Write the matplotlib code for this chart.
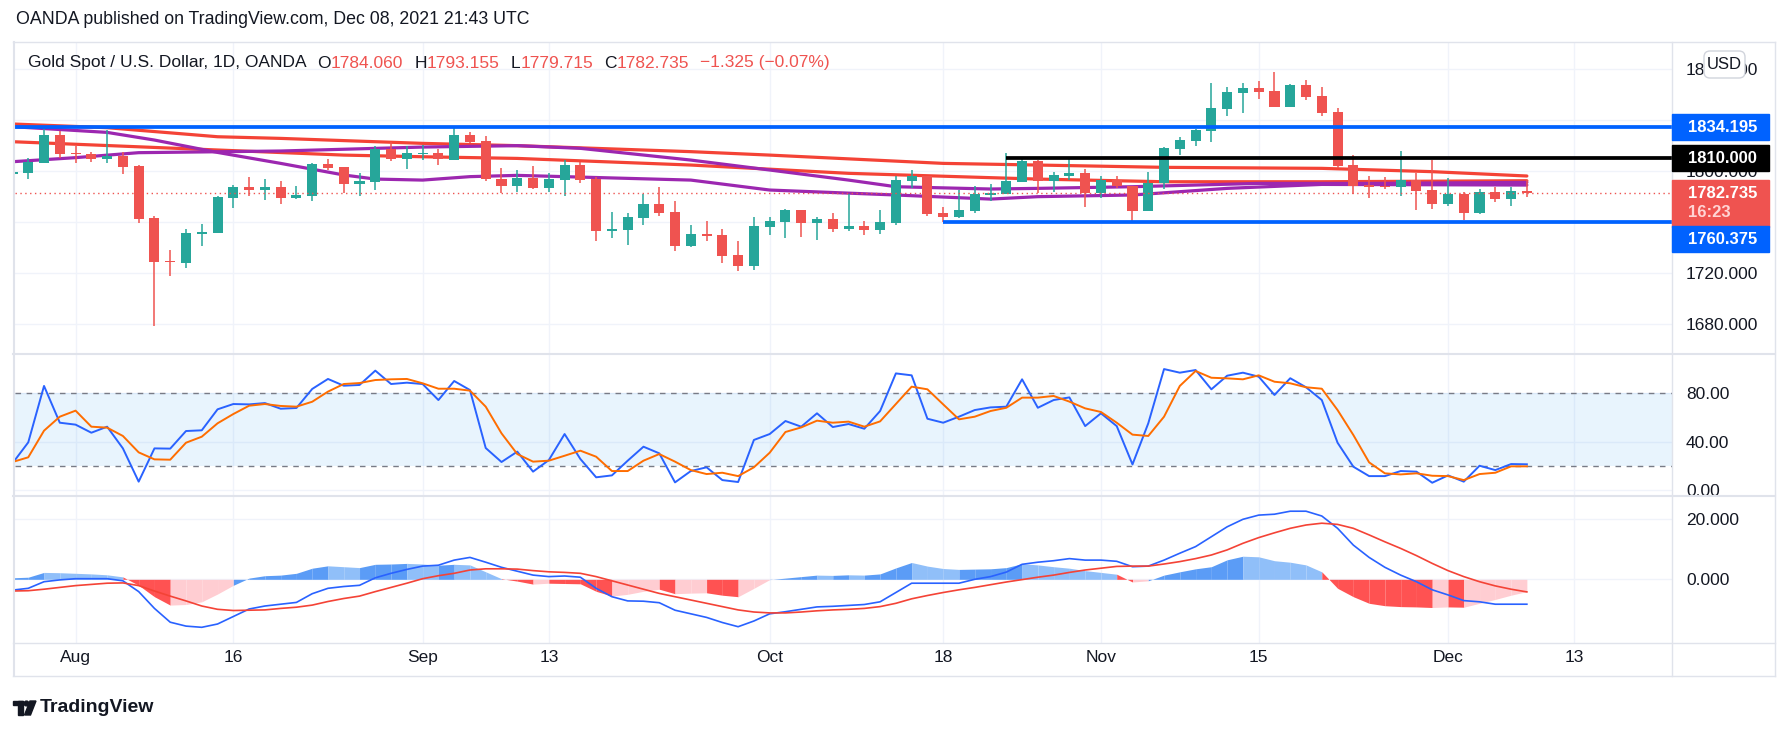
import matplotlib
matplotlib.use("Agg")
import matplotlib.pyplot as plt
from matplotlib.patches import Rectangle, FancyBboxPatch, Circle, Polygon
from matplotlib.lines import Line2D
from matplotlib.transforms import IdentityTransform
import numpy as np

plt.rcParams['font.family'] = ['Liberation Sans', 'DejaVu Sans']

# ---- data (bar index 0 = Jul 28 2021, 95 = Dec 08) ----
bars = np.arange(-1, 96)

opens = [1797.4, 1798.7, 1806.5, 1828.2, 1814.1, 1813.3, 1809.7, 1811.5, 1803.9, 1762.9,
         1729.4, 1728.1, 1750.8, 1751.6, 1779.1, 1787.2, 1785.4, 1787.2, 1779.1, 1780.7,
         1805.5, 1802.9, 1790.1, 1791.6, 1817.5, 1809.7, 1813.3, 1814.1, 1808.6, 1828.2,
         1823.5, 1793.7, 1788.2, 1794.5, 1786.9, 1792.9, 1804.7, 1793.7, 1753.2, 1754.0,
         1763.4, 1774.1, 1767.8, 1741.2, 1750.6, 1749.8, 1734.1, 1725.8, 1756.3, 1760.3,
         1769.7, 1759.5, 1762.4, 1754.8, 1756.9, 1754.0, 1759.5, 1792.4, 1796.1, 1767.1,
         1763.9, 1768.6, 1781.4, 1782.2, 1791.4, 1807.8, 1792.4, 1796.3, 1798.4, 1783.0,
         1792.7, 1788.0, 1768.9, 1790.8, 1817.5, 1823.8, 1831.6, 1848.9, 1861.4, 1865.1,
         1862.7, 1850.5, 1867.5, 1858.8, 1846.3, 1804.7, 1789.0, 1788.2, 1787.7, 1792.7,
         1785.1, 1774.4, 1782.0, 1767.3, 1783.5, 1778.3, 1784.060]
highs = [1801.5, 1809.9, 1832.9, 1831.4, 1819.9, 1815.2, 1832.2, 1814.6, 1804.7, 1764.4,
         1738.0, 1754.5, 1758.2, 1780.1, 1789.0, 1795.3, 1793.7, 1792.2, 1788.2, 1806.5,
         1809.2, 1802.9, 1798.2, 1819.6, 1822.5, 1819.6, 1820.4, 1817.3, 1834.5, 1830.3,
         1827.5, 1802.1, 1800.5, 1804.2, 1798.2, 1808.4, 1806.8, 1795.6, 1768.1, 1767.1,
         1782.0, 1787.5, 1776.5, 1757.6, 1760.8, 1754.8, 1745.1, 1763.9, 1763.9, 1770.2,
         1769.7, 1764.2, 1767.1, 1781.7, 1760.8, 1769.4, 1796.1, 1800.8, 1796.1, 1771.8,
         1785.1, 1788.2, 1789.8, 1814.1, 1810.2, 1808.6, 1799.5, 1810.2, 1801.6, 1796.1,
         1796.1, 1788.0, 1799.2, 1818.8, 1826.7, 1832.9, 1869.0, 1865.9, 1869.0, 1870.6,
         1877.6, 1868.2, 1871.4, 1865.9, 1849.4, 1812.5, 1796.1, 1795.0, 1815.7, 1798.7,
         1808.6, 1794.2, 1783.8, 1785.9, 1787.7, 1787.7, 1793.155]
lows = [1794.5, 1793.5, 1806.5, 1809.9, 1806.5, 1807.3, 1806.5, 1797.9, 1759.0, 1678.5,
        1717.9, 1724.2, 1741.4, 1751.6, 1771.2, 1780.4, 1777.3, 1774.4, 1778.0, 1776.7,
        1800.8, 1783.0, 1780.7, 1785.1, 1807.8, 1801.6, 1808.6, 1804.7, 1808.6, 1821.7,
        1792.2, 1782.5, 1783.8, 1786.0, 1783.8, 1780.7, 1790.8, 1745.4, 1747.7, 1742.0,
        1757.6, 1764.7, 1737.3, 1740.4, 1745.4, 1728.1, 1721.6, 1722.6, 1749.8, 1747.7,
        1748.5, 1746.1, 1752.4, 1753.2, 1750.1, 1750.8, 1757.9, 1786.7, 1764.7, 1760.0,
        1763.1, 1767.1, 1776.5, 1782.2, 1791.4, 1783.0, 1783.8, 1792.7, 1772.0, 1779.1,
        1786.4, 1759.0, 1768.9, 1785.6, 1812.5, 1819.9, 1823.0, 1843.4, 1845.8, 1856.7,
        1850.5, 1850.5, 1855.9, 1843.4, 1802.1, 1782.2, 1779.1, 1786.1, 1780.7, 1769.7,
        1770.5, 1772.8, 1761.6, 1766.5, 1775.9, 1772.8, 1779.715]
closes = [1799.5, 1806.8, 1828.2, 1813.3, 1813.1, 1809.7, 1811.5, 1803.4, 1762.6, 1728.9,
          1728.4, 1751.1, 1751.9, 1779.3, 1787.2, 1785.4, 1787.2, 1779.1, 1780.9, 1805.5,
          1802.6, 1790.1, 1792.2, 1817.5, 1809.7, 1814.1, 1814.1, 1809.7, 1828.2, 1822.5,
          1793.7, 1788.2, 1794.5, 1786.9, 1793.7, 1804.7, 1792.9, 1753.2, 1754.5, 1763.9,
          1774.1, 1767.3, 1741.2, 1750.6, 1749.3, 1733.3, 1725.8, 1756.9, 1760.8, 1769.7,
          1759.5, 1762.4, 1754.8, 1756.9, 1754.0, 1760.0, 1792.9, 1796.1, 1766.3, 1763.9,
          1769.4, 1782.0, 1782.7, 1792.2, 1807.8, 1792.2, 1796.9, 1798.4, 1783.0, 1792.7,
          1788.0, 1768.9, 1790.8, 1818.0, 1824.1, 1831.9, 1849.4, 1862.0, 1865.1, 1862.2,
          1850.5, 1867.5, 1858.3, 1845.8, 1804.2, 1788.5, 1787.7, 1787.5, 1792.7, 1784.6,
          1774.4, 1781.7, 1767.3, 1783.5, 1778.3, 1784.3, 1782.735]

# moving averages, read at a few bars each
ma_red1_x = [-1, 5, 12, 16, 25, 31, 42, 47, 58, 64, 72, 82, 89, 95]
ma_red1_y = [1836.9, 1834.0, 1826.9, 1825.6, 1821.7, 1819.9, 1815.2, 1812.5, 1806.0, 1804.7,
             1802.9, 1802.1, 1799.5, 1796.1]
ma_red2_x = [-1, 12, 20, 25, 31, 42, 52, 61, 64, 72, 82, 95]
ma_red2_y = [1823.0, 1816.5, 1812.5, 1811.2, 1809.9, 1804.7, 1798.2, 1794.8, 1793.7, 1791.6,
             1791.6, 1792.4]
ma_pur1_x = [-1, 5, 8, 12, 16, 20, 22, 25, 28, 31, 42, 47, 55, 61, 64, 70, 76, 82, 95]
ma_pur1_y = [1834.8, 1830.3, 1824.3, 1814.6, 1806.0, 1796.9, 1793.7, 1792.9, 1795.6, 1796.6,
             1792.9, 1785.1, 1781.2, 1778.0, 1779.9, 1781.2, 1786.4, 1789.5, 1789.0]
ma_pur2_x = [-1, 3, 7, 16, 25, 31, 35, 42, 47, 52, 55, 61, 64, 70, 78, 85, 95]
ma_pur2_y = [1807.3, 1810.5, 1814.4, 1815.7, 1818.8, 1819.9, 1817.8, 1808.6, 1800.8, 1792.9,
             1787.7, 1785.9, 1786.4, 1787.7, 1790.3, 1790.3, 1791.1]

stoch_k = [21.9, 39.3, 86.1, 55.6, 54.0, 47.3, 52.3, 34.3, 6.7, 34.3, 34.1, 48.7, 49.3, 66.7,
           71.1, 70.8, 71.9, 67.2, 67.8, 83.6, 91.9, 86.3, 86.9, 98.8, 87.7, 88.8, 87.7, 74.4,
           90.2, 82.7, 34.6, 23.0, 31.6, 15.0, 24.6, 46.2, 25.5, 10.3, 11.9, 24.1, 35.7, 30.2,
           6.1, 15.5, 18.6, 8.0, 6.4, 41.3, 46.2, 57.0, 52.3, 63.4, 52.0, 54.5, 50.6, 65.3,
           96.5, 94.9, 58.9, 55.6, 60.6, 66.1, 68.3, 68.9, 91.6, 68.0, 74.4, 76.6, 52.8, 63.4,
           52.8, 21.0, 55.1, 100.1, 97.1, 99.3, 83.3, 94.6, 97.1, 93.8, 78.6, 92.5, 85.0, 74.4,
           39.0, 19.1, 11.3, 11.3, 15.5, 15.0, 5.8, 11.9, 6.7, 19.9, 16.3, 21.3, 21.1]
stoch_d = [23.0, 26.9, 49.0, 60.6, 65.6, 52.3, 51.5, 44.6, 31.0, 25.2, 24.9, 39.0, 44.0, 55.1,
           62.8, 69.7, 71.1, 69.5, 68.9, 73.0, 81.4, 87.7, 88.5, 91.0, 91.6, 91.9, 88.3, 83.8,
           83.8, 82.2, 68.9, 46.8, 29.6, 23.3, 24.1, 28.2, 32.4, 27.4, 15.5, 15.5, 24.1, 29.6,
           23.3, 16.3, 13.0, 14.1, 11.3, 18.6, 30.7, 47.9, 51.7, 57.3, 55.6, 56.5, 52.3, 56.7,
           71.1, 85.5, 83.3, 70.8, 58.4, 60.6, 65.3, 68.0, 76.4, 76.4, 77.8, 73.1, 67.5, 64.5,
           55.6, 45.7, 44.6, 60.6, 86.1, 98.5, 92.9, 92.4, 91.6, 94.9, 89.6, 88.3, 85.0, 83.8,
           66.1, 45.4, 22.7, 13.6, 12.7, 13.6, 11.6, 11.3, 8.0, 13.0, 14.1, 19.4, 19.4]

macd_line = [-3.6, -3.0, -0.8, -0.2, 0.2, 0.2, 0.2, -0.5, -4.1, -9.7, -14.3, -15.6, -16.0,
             -14.9, -12.4, -9.9, -8.9, -8.3, -7.7, -4.8, -3.0, -2.4, -2.0, 0.5, 2.0, 3.3, 4.4,
             4.7, 6.4, 7.3, 5.7, 4.0, 2.7, 1.4, 0.9, 1.1, 0.7, -3.0, -5.8, -7.2, -7.3, -7.8,
             -10.3, -11.5, -12.7, -14.4, -15.8, -13.9, -11.5, -10.8, -10.0, -9.2, -9.0, -8.7,
             -8.4, -7.5, -4.4, -1.3, -1.3, -1.3, -1.3, 0.0, 0.9, 2.4, 5.0, 5.7, 6.2, 6.9, 6.4,
             6.4, 6.0, 4.2, 4.4, 6.4, 8.7, 10.9, 14.2, 17.5, 20.0, 21.4, 21.7, 22.7, 22.7, 21.1,
             17.0, 11.4, 7.3, 4.0, 1.4, -0.8, -3.5, -5.2, -7.1, -7.5, -8.3, -8.3, -8.3]
macd_signal = [-3.9, -3.8, -3.3, -2.7, -2.1, -1.7, -1.3, -1.2, -2.1, -3.9, -5.6, -7.2, -8.9,
               -10.0, -10.4, -10.3, -10.2, -9.7, -9.3, -8.6, -7.4, -6.4, -5.6, -4.1, -2.7, -1.3,
               0.2, 1.2, 2.0, 3.1, 3.5, 3.5, 3.4, 2.9, 2.5, 2.3, 2.0, 0.9, -0.5, -1.9, -3.3,
               -4.7, -5.8, -6.9, -8.0, -9.1, -10.2, -10.9, -11.2, -11.2, -10.9, -10.5, -10.2,
               -10.0, -9.7, -9.1, -8.0, -6.5, -5.4, -4.4, -3.5, -2.7, -1.8, -0.9, -0.1, 0.7, 1.4,
               2.3, 3.1, 3.7, 4.3, 4.4, 4.4, 5.1, 5.9, 6.9, 8.1, 9.8, 12.0, 13.9, 15.5, 17.0,
               18.1, 18.7, 18.3, 17.0, 14.8, 12.5, 10.3, 7.9, 5.3, 2.9, 0.9, -0.8, -2.2, -3.3, -4.2]
macd_hist = [0.5, 0.7, 2.3, 2.2, 2.0, 1.8, 1.5, 0.8, -2.0, -5.8, -8.6, -8.4, -7.5, -4.9, -2.0,
             0.4, 1.2, 1.4, 2.0, 3.7, 4.5, 4.2, 3.9, 5.0, 5.1, 5.3, 5.1, 4.7, 5.0, 4.8, 2.5, 0.2,
             -0.6, -1.6, -1.3, -1.4, -1.5, -4.0, -5.6, -5.0, -4.0, -3.3, -4.8, -4.6, -4.5, -5.3,
             -5.8, -3.0, -0.1, 0.4, 0.9, 1.4, 1.3, 1.5, 1.4, 1.8, 3.8, 5.6, 4.4, 3.6, 3.3, 3.4,
             3.5, 3.9, 5.2, 4.8, 4.2, 3.7, 2.9, 2.3, 1.7, -0.9, -0.5, 1.4, 2.5, 3.5, 4.2, 6.5,
             7.7, 7.5, 6.2, 5.7, 4.8, 2.5, -3.0, -5.8, -8.0, -8.8, -9.1, -9.2, -9.4, -9.2, -9.3,
             -8.0, -6.7, -5.3, -4.1]

date_ticks = [3, 13, 25, 33, 47, 58, 68, 78, 90, 98]
date_labels = ['Aug', '16', 'Sep', '13', 'Oct', '18', 'Nov', '15', 'Dec', '13']

price_ticks = [1680, 1720, 1760, 1800, 1840, 1880]
# 1760 and 1840 sit fully behind the price tags in the reference
price_tick_labels = ['1680.000', '1720.000', '', '1800.000', '', '1880.000']

last_price = 1782.735
level_top = 1834.195
level_mid = 1810.000
level_low = 1760.375

# ---- styling ----
TEAL = '#26a69a'
RED = '#ef5350'
BLUE = '#0062ff'
TXT = '#131722'
GRID = '#f0f3fa'
FRAME = '#e0e3eb'
AXFS = 12.5

W, H = 1791, 736
fig = plt.figure(figsize=(W / 100, H / 100), dpi=100)
fig.patch.set_facecolor('white')
PX = IdentityTransform()

left, right = 15, 1672


def panel(top, bottom):
    return fig.add_axes([left / W, 1 - bottom / H, (right - left) / W, (bottom - top) / H])


ax = panel(42, 354)
ax_st = panel(354, 496)
ax_m = panel(496, 643)
xlim = (-0.84, 104.2)

for a in (ax, ax_st, ax_m):
    a.set_xlim(*xlim)
    a.set_xticks(date_ticks)
    a.grid(True, color=GRID, lw=1)
    a.set_axisbelow(True)
    for s in a.spines.values():
        s.set_visible(False)
    a.yaxis.tick_right()
    a.tick_params(axis='both', length=0, labelsize=AXFS, labelcolor=TXT)
    a.tick_params(axis='y', pad=10)
    a.patch.set_alpha(0)

# main price panel
ax.set_ylim(1656.5, 1901.2)
ax.set_yticks(price_ticks)
ax.set_yticklabels(price_tick_labels)
ax.set_xticklabels([])

ax.plot(ma_red1_x, ma_red1_y, color='#f44336', lw=2.3, zorder=2, solid_capstyle='round')
ax.plot(ma_red2_x, ma_red2_y, color='#f44336', lw=2.3, zorder=2, solid_capstyle='round')
ax.plot(ma_pur1_x, ma_pur1_y, color='#9c27b0', lw=2.3, zorder=2, solid_capstyle='round')
ax.plot(ma_pur2_x, ma_pur2_y, color='#9c27b0', lw=2.3, zorder=2, solid_capstyle='round')

o = np.array(opens); c = np.array(closes)
cols = np.where(c >= o, TEAL, RED)
ax.vlines(bars, lows, highs, colors=cols, lw=1.1, zorder=3)
ax.bar(bars, np.maximum(np.abs(c - o), 1.0), bottom=np.minimum(o, c), width=0.64,
       color=cols, zorder=3)

ax.axhline(last_price, color=RED, lw=1, ls=(0, (1, 2.5)), zorder=4)
ax.hlines(level_top, xlim[0], xlim[1], color=BLUE, lw=2.7, zorder=5)
ax.hlines(level_mid, 62, xlim[1], color='black', lw=2.7, zorder=5)
ax.hlines(level_low, 58, xlim[1], color=BLUE, lw=2.7, zorder=5)

# stochastic panel
ax_st.set_ylim(-5.2, 112.6)
ax_st.set_yticks([0, 40, 80])
ax_st.set_yticklabels(['0.00', '40.00', '80.00'])
ax_st.set_xticklabels([])
ax_st.axhspan(20, 80, color='#2196f3', alpha=0.1, lw=0)
ax_st.axhline(80, color='#787b86', lw=1, ls=(0, (4, 4)))
ax_st.axhline(20, color='#787b86', lw=1, ls=(0, (4, 4)))
ax_st.plot(bars, stoch_k, color='#2962ff', lw=1.4)
ax_st.plot(bars, stoch_d, color='#ff6d00', lw=1.4)

# macd panel
ax_m.set_ylim(-21.23, 27.77)
ax_m.set_yticks([0, 20])
ax_m.set_yticklabels(['0.000', '20.000'])
ax_m.set_xticklabels(date_labels)
ax_m.tick_params(axis='x', pad=5)
for i in range(1, len(bars)):
    h0, h1 = macd_hist[i - 1], macd_hist[i]
    if h1 >= 0:
        col = '#5b9cf6' if h1 >= h0 else '#90bff9'
    else:
        col = '#ff5252' if h1 < h0 else '#ffcdd2'
    ax_m.fill_between([bars[i - 1], bars[i]], [h0, h1], 0, color=col, lw=0)
ax_m.plot(bars, macd_line, color='#2962ff', lw=1.2)
ax_m.plot(bars, macd_signal, color='#f44336', lw=1.2)


# ---- frame lines (pixel coords, y from top) ----
def hline_px(y, x0, x1, color=FRAME, lw=1.0):
    fig.add_artist(Line2D([x0, x1], [H - y, H - y], transform=PX, color=color, lw=lw))


def vline_px(x, y0, y1, color=FRAME, lw=1.0):
    fig.add_artist(Line2D([x, x], [H - y0, H - y1], transform=PX, color=color, lw=lw))


hline_px(42, 13, 1775)
hline_px(354, 13, 1775, lw=1.5)
hline_px(496, 13, 1775, lw=1.5)
hline_px(643, 13, 1775)
hline_px(676, 13, 1775)
vline_px(14, 42, 676, lw=1.5)
vline_px(1672, 42, 676)
vline_px(1775, 42, 676)


# ---- price labels on the right axis ----
def ypix(a, v):
    return H - a.transData.transform((0, v))[1]


def price_tag(v, face, text, top_off=13, bot_off=13, shift=0):
    yc = ypix(ax, v) + shift
    fig.add_artist(Rectangle((1672, H - (yc + bot_off)), 97, top_off + bot_off,
                             transform=PX, color=face, zorder=10))
    fig.text(1688, H - yc, text, transform=PX, color='white', fontsize=12,
             fontweight='bold', va='center', ha='left', zorder=11)
    return yc


price_tag(level_top, BLUE, '%.3f' % level_top)
price_tag(level_mid, 'black', '%.3f' % level_mid)
yc = price_tag(last_price, RED, '%.3f' % last_price, bot_off=34)
fig.text(1688, H - (yc + 19), '16:23', transform=PX, color='#ffd4d4', fontsize=12,
         fontweight='bold', va='center', ha='left', zorder=11)
price_tag(level_low, BLUE, '%.3f' % level_low, shift=17.7)

fig.add_artist(FancyBboxPatch((1704, H - 78), 41, 27, boxstyle='round,pad=0,rounding_size=6',
                              transform=PX, facecolor='white', edgecolor='#d1d4dc', lw=1,
                              zorder=10))
fig.text(1724.5, H - 64.5, 'USD', transform=PX, color=TXT, fontsize=12, ha='center',
         va='center', zorder=11)

# ---- header texts ----
fig.text(16, H - 19, 'OANDA published on TradingView.com, Dec 08, 2021 21:43 UTC', transform=PX,
         color=TXT, fontsize=12.8, va='center')

renderer = fig.canvas.get_renderer()
runs = [('Gold Spot / U.S. Dollar, 1D, OANDA', TXT, 11),
        ('O', TXT, 0), ('1784.060', RED, 11),
        ('H', TXT, 0), ('1793.155', RED, 11),
        ('L', TXT, 0), ('1779.715', RED, 11),
        ('C', TXT, 0), ('1782.735', RED, 11),
        ('\u22121.325 (\u22120.07%)', RED, 0)]
x = 28
for s, col, gap in runs:
    t = fig.text(x, H - 63, s, transform=PX, color=col, fontsize=12.5, va='center', zorder=6)
    x += t.get_window_extent(renderer).width + gap

# ---- TradingView logo at the bottom ----
fig.add_artist(Rectangle((13, H - 705), 10, 4, transform=PX, color=TXT))
fig.add_artist(Rectangle((18, H - 715), 4.5, 14, transform=PX, color=TXT))
fig.add_artist(Circle((26.5, H - 703.5), 2.4, transform=PX, color=TXT))
fig.add_artist(Polygon([(30, H - 701), (36, H - 701), (30.5, H - 715), (24.5, H - 715)],
                       closed=True, transform=PX, color=TXT))
fig.text(40, H - 708, 'TradingView', transform=PX, color=TXT, fontsize=14, va='center',
         fontweight='bold')

fig.savefig('out.png', dpi=100, facecolor='white')
